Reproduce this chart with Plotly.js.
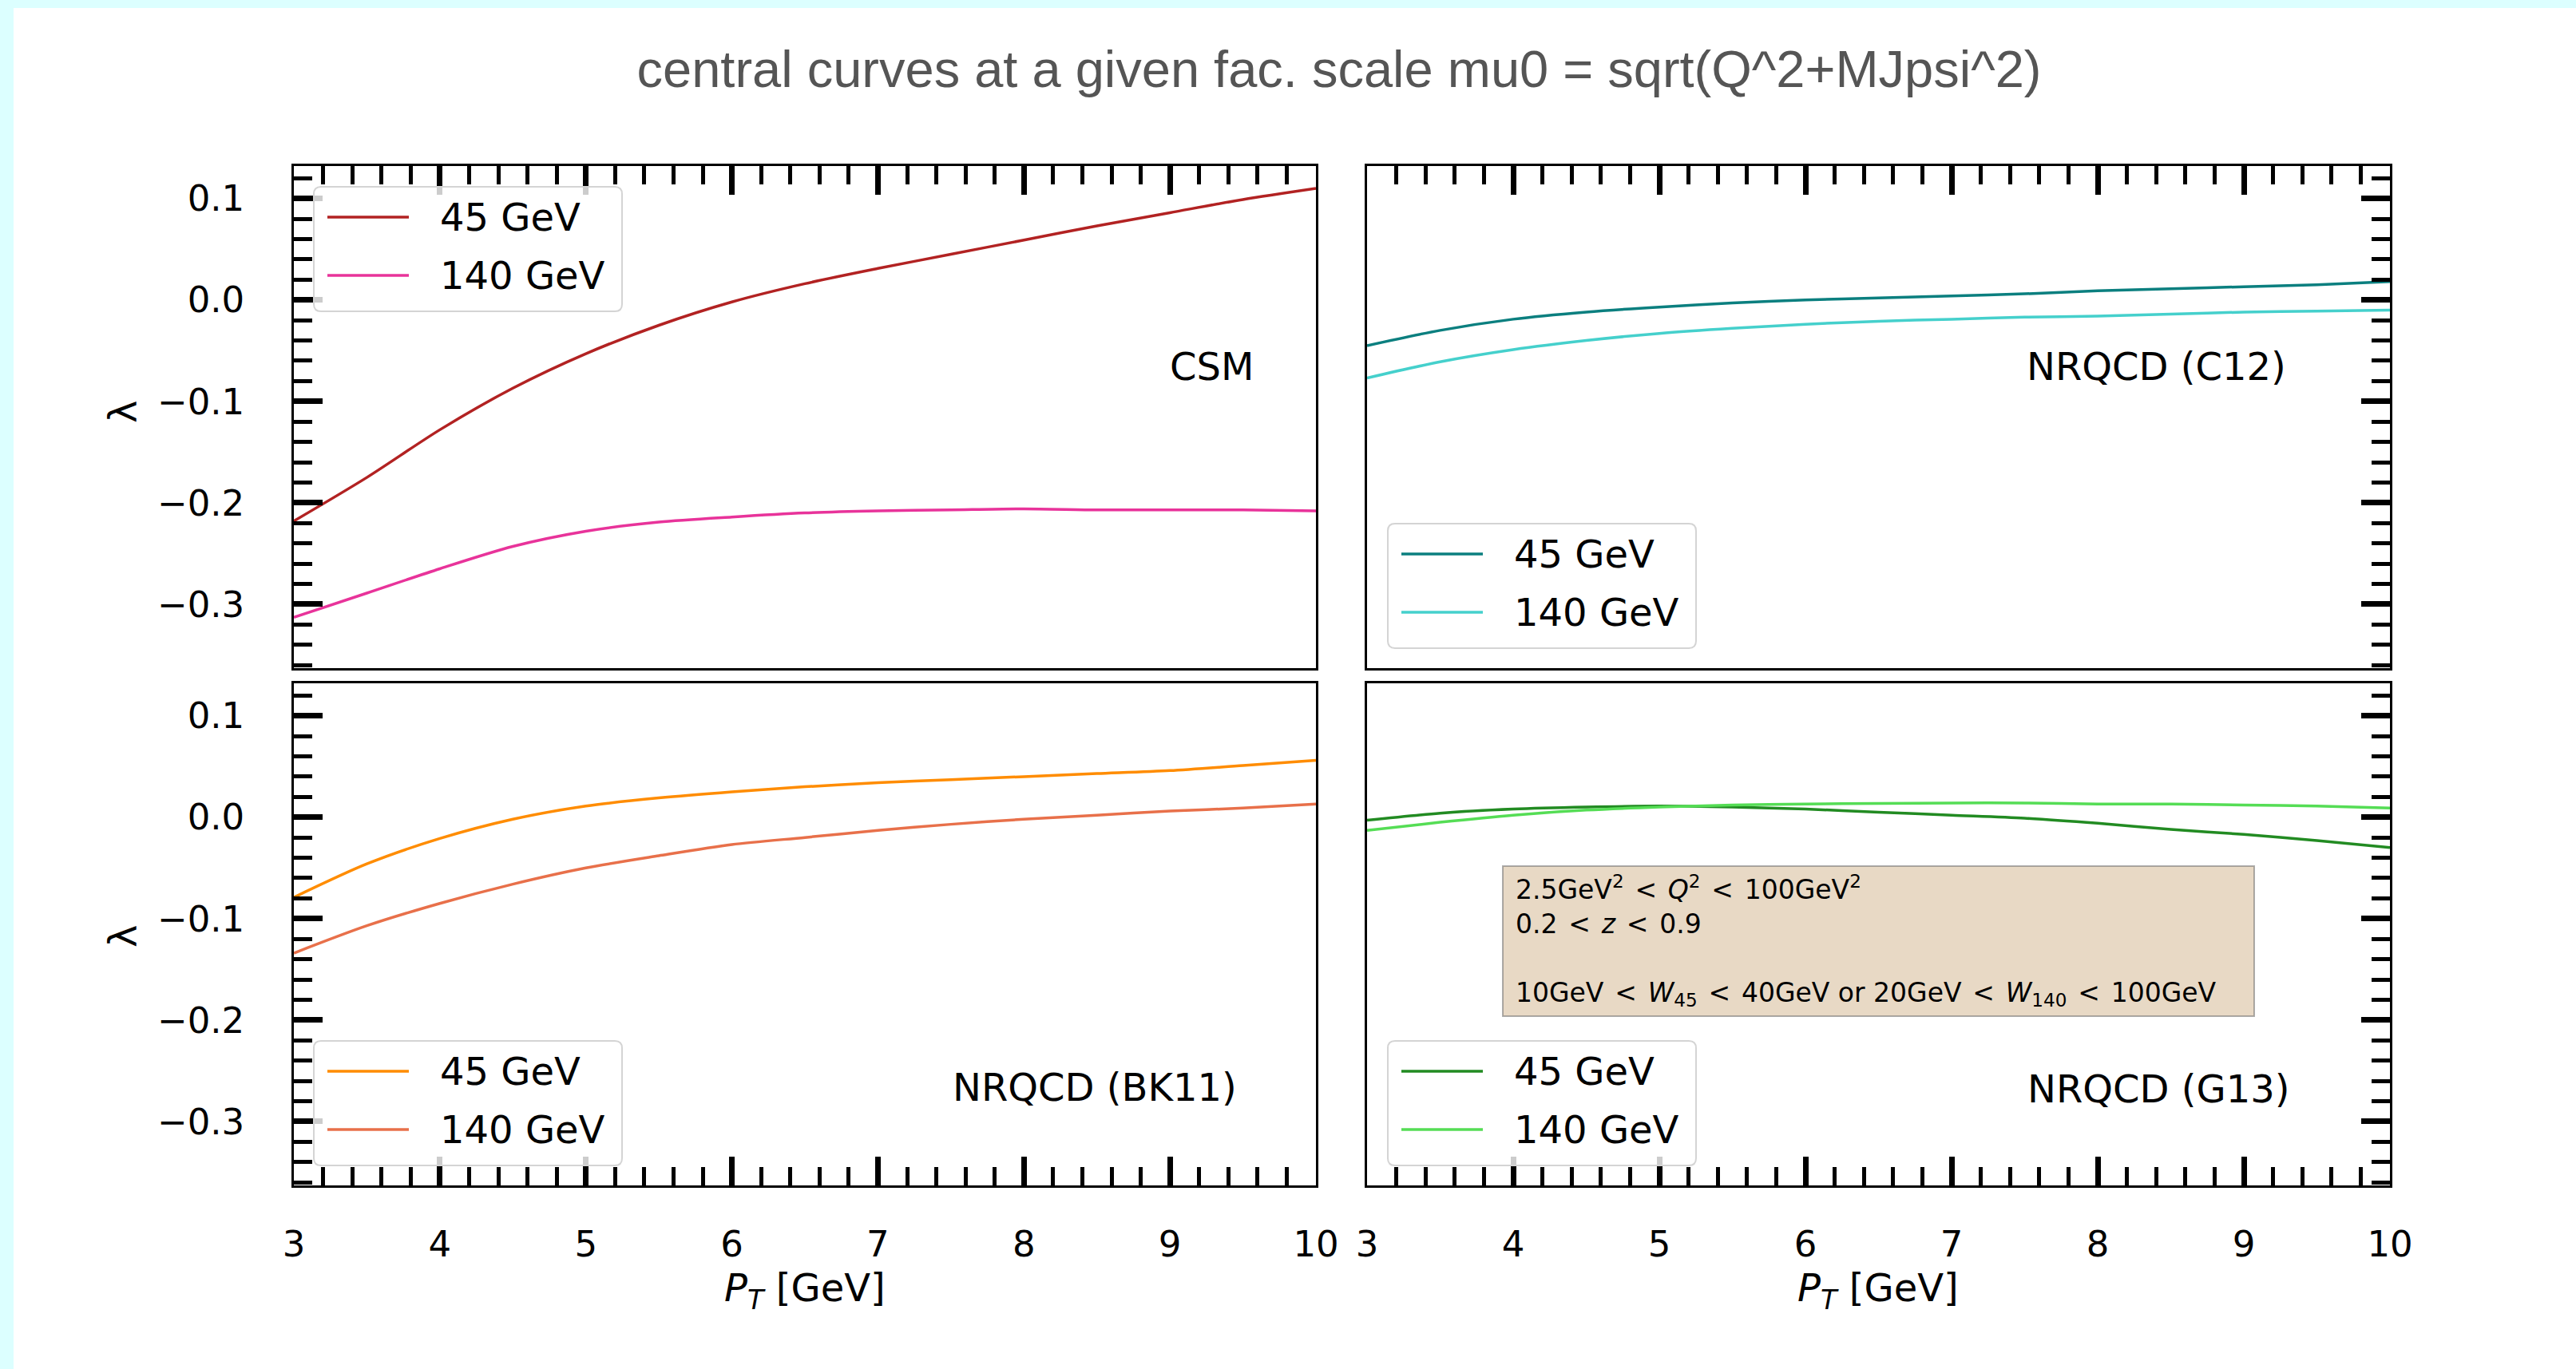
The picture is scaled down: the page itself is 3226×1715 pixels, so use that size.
<!DOCTYPE html>
<html>
<head>
<meta charset="utf-8">
<script src="https://cdn.plot.ly/plotly-3.0.1.min.js"></script>
<style>
  html, body { margin: 0; padding: 0; background: #dcffff; width: 3226px; height: 1715px; overflow: hidden; }
  #chart { position: absolute; left: 17px; top: 10px; width: 3209px; height: 1705px; }
</style>
</head>
<body>
<div id="chart"></div>
<script>
// ---------------- data ----------------
const pt = [3, 3.5, 4, 4.5, 5, 5.5, 6, 6.5, 7, 7.5, 8, 8.5, 9, 9.5, 10];

const csm45   = [-0.218, -0.175, -0.128, -0.087, -0.053, -0.025, -0.002, 0.016, 0.031, 0.045, 0.059, 0.073, 0.086, 0.099, 0.110];
const csm140  = [-0.313, -0.289, -0.265, -0.243, -0.228, -0.219, -0.214, -0.210, -0.208, -0.207, -0.206, -0.207, -0.207, -0.207, -0.208];

const c12_45  = [-0.045, -0.030, -0.019, -0.012, -0.007, -0.003, 0.000, 0.002, 0.004, 0.006, 0.009, 0.011, 0.013, 0.015, 0.018];
const c12_140 = [-0.077, -0.061, -0.049, -0.040, -0.033, -0.028, -0.024, -0.021, -0.019, -0.017, -0.016, -0.014, -0.012, -0.011, -0.010];

const bk11_45  = [-0.079, -0.046, -0.021, -0.002, 0.011, 0.019, 0.025, 0.030, 0.034, 0.037, 0.040, 0.043, 0.046, 0.051, 0.056];
const bk11_140 = [-0.134, -0.107, -0.085, -0.066, -0.050, -0.038, -0.027, -0.020, -0.013, -0.007, -0.002, 0.002, 0.006, 0.009, 0.013];

const g13_45  = [-0.003, 0.004, 0.008, 0.010, 0.011, 0.010, 0.008, 0.005, 0.002, -0.001, -0.006, -0.012, -0.017, -0.023, -0.030];
const g13_140 = [-0.013, -0.005, 0.002, 0.007, 0.010, 0.012, 0.013, 0.0135, 0.014, 0.014, 0.013, 0.013, 0.012, 0.011, 0.009];

const seriesNames = ['45 GeV', '140 GeV'];
const panelLabels = ['CSM', 'NRQCD (C12)', 'NRQCD (BK11)', 'NRQCD (G13)'];

const xTickVals = [3, 4, 5, 6, 7, 8, 9, 10];
const xTickText = ['3', '4', '5', '6', '7', '8', '9', '10'];
const yTickVals = [-0.3, -0.2, -0.1, 0.0, 0.1];
const yTickText = ['\u22120.3', '\u22120.2', '\u22120.1', '0.0', '0.1'];

const titleText = 'central curves at a given fac. scale mu0 = sqrt(Q^2+MJpsi^2)';
const yTitle = '\u03bb';
const xTitle = '<i>P</i><sub><i>T</i></sub> [GeV]';
const LT = ' \u200a&lt;\u200a ';
const cutsText = '2.5GeV<sup>2</sup>' + LT + '<i>Q</i><sup>2</sup>' + LT + '100GeV<sup>2</sup><br>' +
                 '0.2' + LT + '<i>z</i>' + LT + '0.9<br> <br>' +
                 '10GeV' + LT + '<i>W</i><sub>45</sub>' + LT + '40GeV or 20GeV' + LT + '<i>W</i><sub>140</sub>' + LT + '100GeV';

// ---------------- styling / geometry ----------------
const W = 3209, H = 1705, OX = 17, OY = 10;
const px = x => (x - OX) / W;
const py = y => 1 - (y - OY) / H;

const PXL = [368, 1648], PXR = [1712, 2993];
const PYT = [208, 837], PYB = [856, 1485];
const yRange = [-0.363, 0.132];
const FONT = 'DejaVu Sans, Verdana, sans-serif';

const colors = {
  csm: ['#b22222', '#e8339a'],
  c12: ['#0b7f7f', '#45d0cc'],
  bk11: ['#ff8c00', '#e8704a'],
  g13: ['#228b22', '#55dd55']
};

const panels = [
  { xa: 'x',  ya: 'y',  ys: [csm45, csm140],   c: colors.csm },
  { xa: 'x2', ya: 'y2', ys: [c12_45, c12_140], c: colors.c12 },
  { xa: 'x3', ya: 'y3', ys: [bk11_45, bk11_140], c: colors.bk11 },
  { xa: 'x4', ya: 'y4', ys: [g13_45, g13_140], c: colors.g13 }
];

const traces = [];
panels.forEach(p => {
  p.ys.forEach((ys, i) => {
    traces.push({
      type: 'scatter', mode: 'lines', x: pt, y: ys, xaxis: p.xa, yaxis: p.ya,
      name: seriesNames[i], showlegend: false,
      line: { color: p.c[i], width: 3.5, shape: 'spline', smoothing: 0.8 },
      hoverinfo: 'skip'
    });
  });
});

function axisBase(extra) {
  return Object.assign({
    showgrid: false, zeroline: false, showline: true, mirror: true,
    linecolor: '#000', linewidth: 2.5,
    ticks: 'inside', ticklen: 36, tickwidth: 7, tickcolor: '#000',
    tickfont: { family: FONT, size: 45, color: '#000' },
    fixedrange: true
  }, extra);
}
function xAxis(dom, side, labels, anchor) {
  return axisBase({
    domain: dom, range: [3, 10], side: side, anchor: anchor,
    tickmode: 'array', tickvals: xTickVals, ticktext: xTickText,
    showticklabels: labels, ticklabelstandoff: 32,
    minor: { tickmode: 'linear', tick0: 3, dtick: 0.2, ticks: 'inside', ticklen: 23, tickwidth: 5, tickcolor: '#000', showgrid: false }
  });
}
function yAxis(dom, side, labels, anchor) {
  return axisBase({
    domain: dom, range: yRange, side: side, anchor: anchor,
    tickmode: 'array', tickvals: yTickVals, ticktext: yTickText,
    showticklabels: labels, ticklabelstandoff: 50,
    minor: { tickmode: 'linear', tick0: 0, dtick: 0.02, ticks: 'inside', ticklen: 23, tickwidth: 5, tickcolor: '#000', showgrid: false }
  });
}

const dxL = [px(PXL[0]), px(PXL[1])], dxR = [px(PXR[0]), px(PXR[1])];
const dyT = [py(PYT[1]), py(PYT[0])], dyB = [py(PYB[1]), py(PYB[0])];

const shapes = [];
const annotations = [];

// legends (drawn like matplotlib legends)
function roundRectPath(x0, y0, x1, y1, r) {
  const P = (x, y) => px(x).toFixed(6) + ',' + py(y).toFixed(6);
  return 'M' + P(x0 + r, y0) + ' L' + P(x1 - r, y0) + ' Q' + P(x1, y0) + ' ' + P(x1, y0 + r) +
         ' L' + P(x1, y1 - r) + ' Q' + P(x1, y1) + ' ' + P(x1 - r, y1) +
         ' L' + P(x0 + r, y1) + ' Q' + P(x0, y1) + ' ' + P(x0, y1 - r) +
         ' L' + P(x0, y0 + r) + ' Q' + P(x0, y0) + ' ' + P(x0 + r, y0) + ' Z';
}
const legendBoxes = [
  { x: 393, y: 234, c: colors.csm },
  { x: 1738, y: 656, c: colors.c12 },
  { x: 393, y: 1304, c: colors.bk11 },
  { x: 1738, y: 1304, c: colors.g13 }
];
legendBoxes.forEach(b => {
  shapes.push({
    type: 'path', xref: 'paper', yref: 'paper', layer: 'above',
    path: roundRectPath(b.x, b.y, b.x + 386, b.y + 156, 9),
    fillcolor: 'rgba(255,255,255,0.8)', line: { color: '#d4d4d4', width: 2 }
  });
  [38, 111].forEach((dy, i) => {
    shapes.push({
      type: 'line', xref: 'paper', yref: 'paper', layer: 'above',
      x0: px(b.x + 17), x1: px(b.x + 119), y0: py(b.y + dy), y1: py(b.y + dy),
      line: { color: b.c[i], width: 3.5 }
    });
    annotations.push({
      xref: 'paper', yref: 'paper', x: px(b.x + 156), y: py(b.y + dy),
      xanchor: 'left', yanchor: 'middle', showarrow: false,
      text: seriesNames[i], font: { family: FONT, size: 48, color: '#000' }
    });
  });
});

// panel labels
const labelPos = [[1517, 459], [2700, 459], [1371, 1362], [2703, 1364]];
panelLabels.forEach((t, i) => {
  annotations.push({
    xref: 'paper', yref: 'paper', x: px(labelPos[i][0]), y: py(labelPos[i][1]),
    xanchor: 'center', yanchor: 'middle', showarrow: false,
    text: t, font: { family: FONT, size: 48, color: '#000' }
  });
});

// axis titles
[[154, 516], [154, 1173]].forEach(p => {
  annotations.push({
    xref: 'paper', yref: 'paper', x: px(p[0]), y: py(p[1]),
    xanchor: 'center', yanchor: 'middle', showarrow: false, textangle: -90,
    text: yTitle, font: { family: FONT, size: 48, color: '#000' }
  });
});
[[1008, 1616], [2352, 1616]].forEach(p => {
  annotations.push({
    xref: 'paper', yref: 'paper', x: px(p[0]), y: py(p[1]),
    xanchor: 'center', yanchor: 'middle', showarrow: false,
    text: xTitle, font: { family: FONT, size: 48, color: '#000' }
  });
});

// cuts box
shapes.push({
  type: 'rect', xref: 'paper', yref: 'paper', layer: 'above',
  x0: px(1882), x1: px(2823), y0: py(1085), y1: py(1273),
  fillcolor: 'rgba(210,180,140,0.5)', line: { color: 'rgba(110,110,110,0.55)', width: 2 }
});
annotations.push({
  xref: 'paper', yref: 'paper', x: px(1896), y: py(1089),
  xanchor: 'left', yanchor: 'top', align: 'left', showarrow: false,
  text: cutsText, font: { family: FONT, size: 33, color: '#000' }
});

const layout = {
  width: W, height: H,
  margin: { l: 0, r: 0, t: 0, b: 0, pad: 0 },
  paper_bgcolor: '#ffffff', plot_bgcolor: 'rgba(0,0,0,0)',
  showlegend: false,
  title: {
    text: titleText, x: px(1677), xanchor: 'center', y: 1 - (86 - OY) / H, yanchor: 'middle',
    xref: 'paper', yref: 'container',
    font: { family: '"Liberation Sans", Arial, sans-serif', size: 65, color: '#555' }
  },
  xaxis:  xAxis(dxL, 'top', false, 'y'),
  yaxis:  yAxis(dyT, 'left', true, 'x'),
  xaxis2: xAxis(dxR, 'top', false, 'y2'),
  yaxis2: yAxis(dyT, 'right', false, 'x2'),
  xaxis3: xAxis(dxL, 'bottom', true, 'y3'),
  yaxis3: yAxis(dyB, 'left', true, 'x3'),
  xaxis4: xAxis(dxR, 'bottom', true, 'y4'),
  yaxis4: yAxis(dyB, 'right', false, 'x4'),
  shapes: shapes,
  annotations: annotations
};

Plotly.newPlot('chart', traces, layout, { displayModeBar: false, responsive: false });
</script>
</body>
</html>
